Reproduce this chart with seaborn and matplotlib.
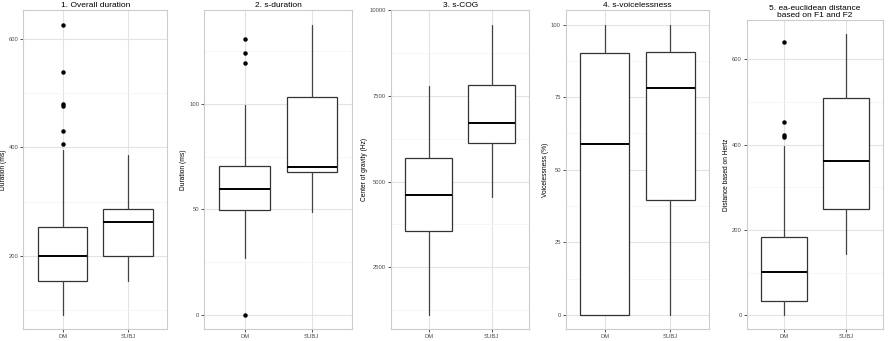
import numpy as np
import matplotlib
matplotlib.use("Agg")
import matplotlib.pyplot as plt
import seaborn as sns

# groups shown on every panel
groups = ["DM", "SUBJ"]

# box summaries: [low whisker, Q1, median, Q3, high whisker]
overall_dm = [91, 154, 199, 253, 395]
overall_subj = [153, 199, 262, 286, 386]
overall_dm_out = [407, 430, 477, 480, 540, 627]
overall_subj_out = []

sdur_dm = [27, 49.7, 59.8, 70.8, 99.4]
sdur_subj = [48.8, 68, 70.3, 103.5, 137.8]
sdur_dm_out = [0, 119.7, 124.4, 131]
sdur_subj_out = []

cog_dm = [1104, 3554, 4602, 5694, 7793]
cog_subj = [4561, 6133, 6717, 7822, 9590]
cog_dm_out = []
cog_subj_out = []

voice_dm = [0, 0, 58.9, 90.2, 100]
voice_subj = [0, 39.6, 78.3, 90.4, 100]
voice_dm_out = []
voice_subj_out = []

eucl_dm = [0, 34.5, 101.6, 183, 397]
eucl_subj = [143.8, 248, 361, 509, 659]
eucl_dm_out = [418, 422, 453, 640]
eucl_subj_out = []

titles = ["1. Overall duration", "2. s-duration", "3. s-COG", "4. s-voicelessness",
          "5. ea-euclidean distance\nbased on F1 and F2"]
ylabels = ["Duration (ms)", "Duration (ms)", "Center of gravity (Hz)",
           "Voicelessness (%)", "Distance based on Hertz"]
major_ticks = [[200, 400, 600], [0, 50, 100], [2500, 5000, 7500, 10000],
               [0, 25, 50, 75, 100], [0, 200, 400, 600]]

panels = [
    (overall_dm, overall_subj, overall_dm_out, overall_subj_out),
    (sdur_dm, sdur_subj, sdur_dm_out, sdur_subj_out),
    (cog_dm, cog_subj, cog_dm_out, cog_subj_out),
    (voice_dm, voice_subj, voice_dm_out, voice_subj_out),
    (eucl_dm, eucl_subj, eucl_dm_out, eucl_subj_out),
]

# panel placement in pixels: left, right, top (bottom shared)
W, H = 893, 341
boxes_px = [(23.3, 167.3, 10), (204.3, 352, 10), (391, 529.3, 10),
            (565.7, 709.3, 10), (746.7, 883, 20)]
bottom_px = 329.3

sns.set_theme(style="white")
plt.rcParams["font.family"] = ["Liberation Sans", "DejaVu Sans"]

fig = plt.figure(figsize=(W / 100, H / 100), dpi=100)


def make_stats(summary, fliers, label):
    lo, q1, med, q3, hi = summary
    return dict(label=label, whislo=lo, q1=q1, med=med, q3=q3, whishi=hi,
                fliers=np.array(fliers, dtype=float))


for i, (dm, subj, dm_out, subj_out) in enumerate(panels):
    l, r, t = boxes_px[i]
    ax = fig.add_axes([l / W, (H - bottom_px) / H, (r - l) / W, (bottom_px - t) / H])
    stats = [make_stats(dm, dm_out, groups[0]), make_stats(subj, subj_out, groups[1])]
    ax.bxp(
        stats, positions=[1, 2], widths=0.75, showcaps=False, patch_artist=True,
        boxprops=dict(facecolor="white", edgecolor="#333333", linewidth=0.9),
        whiskerprops=dict(color="#444444", linewidth=0.9),
        medianprops=dict(color="black", linewidth=1.4),
        flierprops=dict(marker="o", markerfacecolor="black", markeredgecolor="black",
                        markersize=2.2, linestyle="none"),
        zorder=3,
    )

    mt = major_ticks[i]
    step = mt[1] - mt[0]
    minor = np.arange(mt[0] - step / 2, mt[-1] + step, step)
    ax.set_yticks(mt)
    ax.set_yticks(minor, minor=True)
    ax.set_xticks([1, 2])
    ax.set_xticklabels(groups)

    # ggplot-like expansion of the y range (after ticks, which can widen limits)
    vals = list(dm) + list(subj) + list(dm_out) + list(subj_out)
    lo, hi = min(vals), max(vals)
    pad = (hi - lo) * 0.05
    ax.set_ylim(lo - pad, hi + pad)
    ax.set_xlim(0.4, 2.6)

    ax.grid(True, which="major", color="#e3e3e3", linewidth=0.8, zorder=0)
    ax.grid(True, which="minor", axis="y", color="#f3f3f3", linewidth=0.5, zorder=0)
    ax.set_axisbelow(True)

    ax.tick_params(axis="both", which="major", length=2, width=0.6, color="#333333",
                   labelsize=4.2, labelcolor="#4d4d4d", pad=1.5,
                   bottom=True, left=True)
    ax.tick_params(which="minor", length=0)
    for s in ax.spines.values():
        s.set_color("#cccccc")
        s.set_linewidth(0.8)

    ax.set_ylabel(ylabels[i], fontsize=4.8, color="black", labelpad=1.5)
    ax.set_xlabel("")
    ax.set_title(titles[i], fontsize=6, color="black", pad=2, linespacing=1.0)

fig.savefig("out.png", dpi=100)
